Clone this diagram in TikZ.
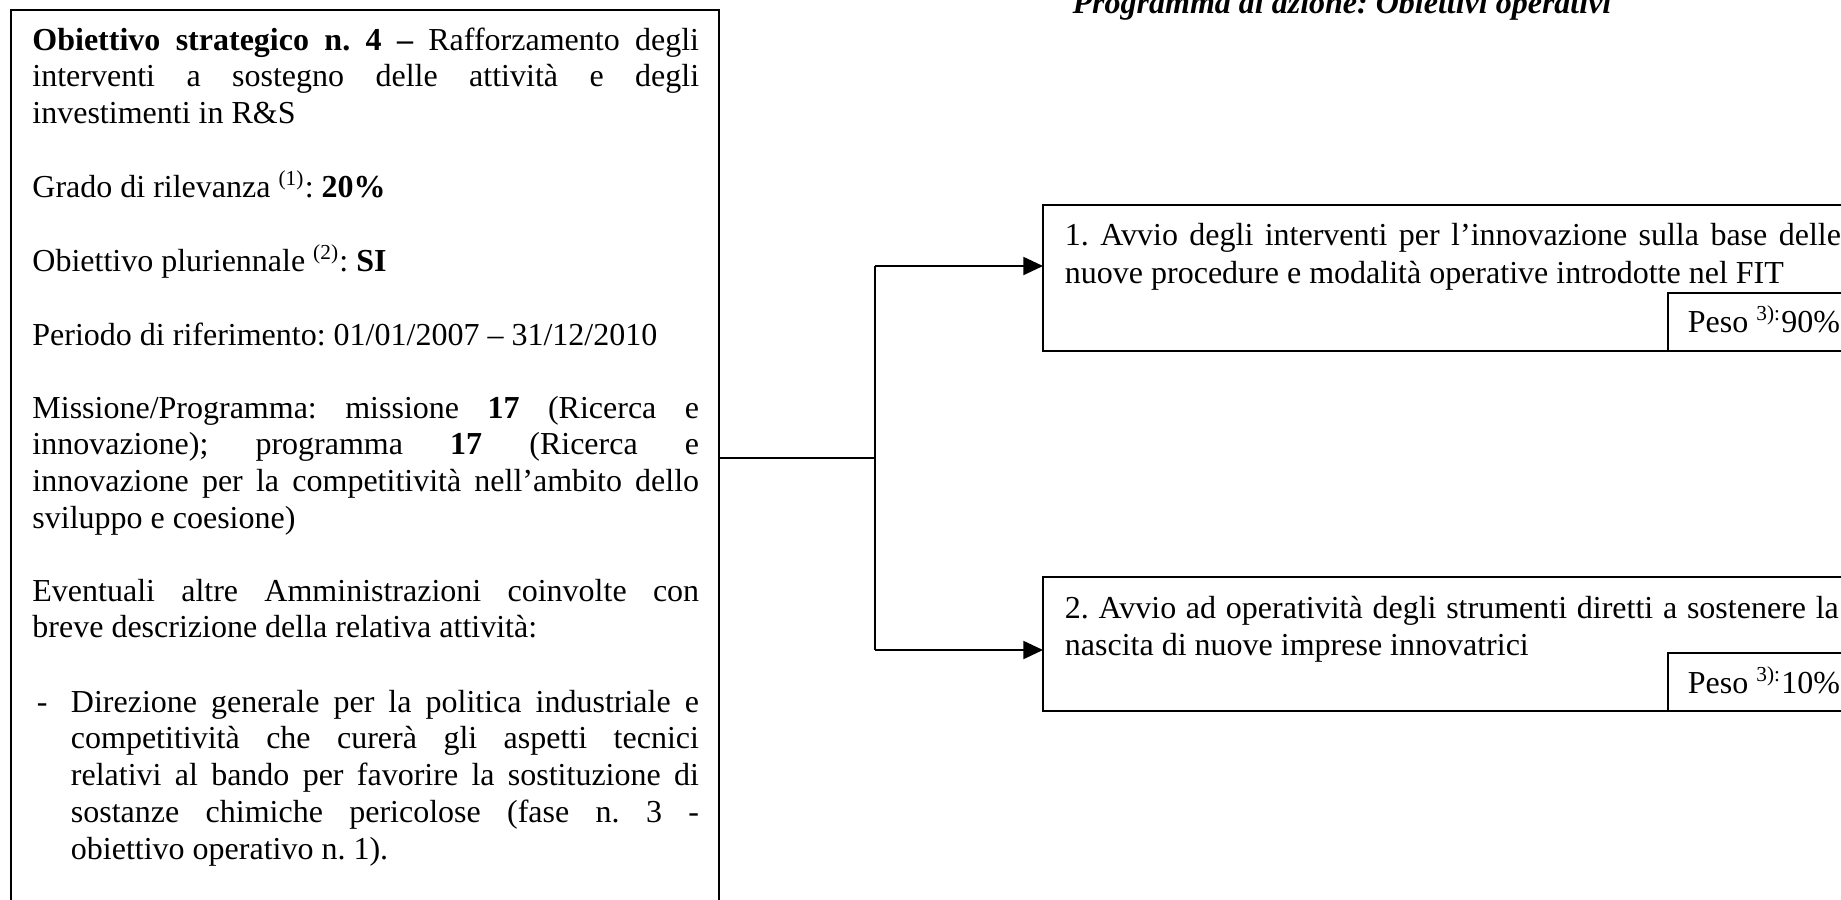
\documentclass[tikz,border=0pt]{standalone}
\usepackage{fontspec}
\setmainfont{Liberation Serif}
\usetikzlibrary{arrows.meta}
\frenchspacing
\begin{document}
\begin{tikzpicture}[x=0.375pt,y=-0.375pt,
  line width=0.7pt,
  txt/.style={inner sep=0pt, anchor=base west, font=\fontsize{12}{13.8}\selectfont},
  para/.style={txt, text width=250pt, align=justify},
  itempara/.style={txt, text width=235.5pt, align=justify},
  box/.style={draw, line width=0.75pt, anchor=north west, inner sep=0pt, outer sep=0pt},
  arr/.style={-{Triangle[length=7.4pt,width=6.8pt]}},
]
\useasboundingbox (0,0) rectangle (1841,899);
\clip (0,0) rectangle (1841,899);

% strategic objective box
\node[box, minimum width=265.6pt, minimum height=336pt] (strat) at (10.7,10) {};
\node[para] (p1) at (31.5,50) {\textbf{Obiettivo strategico n. 4 –} Rafforzamento degli\linebreak interventi a sostegno delle attività e degli\linebreak investimenti in R\&S};
\node[para] (p2) at (31.5,197) {Grado di rilevanza \textsuperscript{(1)}: \textbf{20\%}};
\node[para] (p3) at (31.5,271) {Obiettivo pluriennale \textsuperscript{(2)}: \textbf{SI}};
\node[para] (p4) at (31.5,345) {Periodo di riferimento: 01/01/2007 – 31/12/2010};
\node[para] (p5) at (31.5,418) {Missione/Programma: missione \textbf{17} (Ricerca e\linebreak innovazione); programma \textbf{17} (Ricerca e\linebreak innovazione per la competitività nell’ambito dello\linebreak sviluppo e coesione)};
\node[para] (p6) at (31.5,601) {Eventuali altre Amministrazioni coinvolte con\linebreak breve descrizione della relativa attività:};
\node[txt] (dash) at (36,712) {-};
\node[itempara] (p7) at (70,712) {Direzione generale per la politica industriale e\linebreak competitività che curerà gli aspetti tecnici\linebreak relativi al bando per favorire la sostituzione di\linebreak sostanze chimiche pericolose (fase n. 3 -\linebreak obiettivo operativo n. 1).};

% title
\node[txt, anchor=base, font=\fontsize{12}{13.8}\selectfont\bfseries\itshape] (title) at (1342,13) {Programma di azione: Obiettivi operativi};

% operational objective 1
\node[box, minimum width=306.4pt, minimum height=54.75pt] (op1) at (1043,205) {};
\node[box, minimum width=72pt, minimum height=21.75pt] (w1) at (1668,293) {};
\node[txt] (t1) at (1064,245) {\makebox[291pt][s]{1. Avvio degli interventi per l’innovazione sulla base delle}};
\node[txt] (t1b) at (1064,283) {nuove procedure e modalità operative introdotte nel FIT};
\node[txt] (pw1) at (1687,332) {Peso \textsuperscript{3):}90\%};

% operational objective 2
\node[box, minimum width=306.4pt, minimum height=50.25pt] (op2) at (1043,577) {};
\node[box, minimum width=72pt, minimum height=21.75pt] (w2) at (1668,653) {};
\node[txt] (t2) at (1064,618) {\makebox[290.2pt][s]{2. Avvio ad operatività degli strumenti diretti a sostenere la}};
\node[txt] (t2b) at (1064,655) {nascita di nuove imprese innovatrici};
\node[txt] (pw2) at (1687,693) {Peso \textsuperscript{3):}10\%};

% connectors
\coordinate (j1) at (875,266);
\coordinate (j2) at (875,650);
\draw (strat.east) -- (strat.east -| j1);
\draw (j1) -- (j2);
\draw[arr] (j1) -- (j1 -| op1.west);
\draw[arr] (j2) -- (j2 -| op2.west);
\end{tikzpicture}
\end{document}
